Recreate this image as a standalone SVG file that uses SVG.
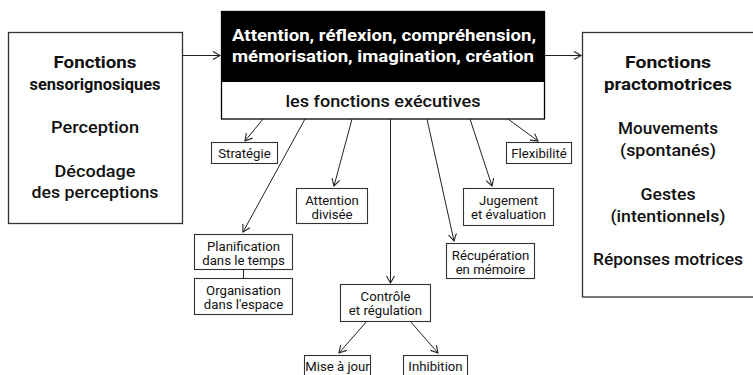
<svg xmlns="http://www.w3.org/2000/svg" width="753" height="375" viewBox="0 0 753 375">
<style>
  .big { fill: #fff; stroke: #333; stroke-width: 1.3; }
  .box { fill: #fff; stroke: #333; stroke-width: 1.1; }
  .t { font-family: Roboto, "Liberation Sans", sans-serif; text-anchor: middle; fill: #111; }
  .title { font-size: 17px; font-weight: 700; }
  .sub { font-size: 17px; font-weight: 500; }
  .head { font-size: 17px; font-weight: 700; fill: #fff; }
  .exec { font-size: 16.5px; font-weight: 500; }
  .lbl { font-size: 13.2px; font-weight: 400; }
  .con { fill: none; stroke: #222; stroke-width: 1; }
</style>
<defs>
  <marker id="arr" markerUnits="userSpaceOnUse" viewBox="-9 -6 11 12" refX="0" refY="0" markerWidth="11" markerHeight="12" orient="auto">
    <path d="M-7,-4 L0,0 L-7,4" fill="none" stroke="#222" stroke-width="1.1"/>
  </marker>
</defs>
<rect width="753" height="375" fill="#fff"/>

<g id="sensorignosiques">
  <rect class="big" x="8.5" y="32.5" width="174" height="191"/>
  <text class="t title" x="95" y="68" textLength="83" lengthAdjust="spacingAndGlyphs">Fonctions</text>
  <text class="t title" x="95" y="90" textLength="131" lengthAdjust="spacingAndGlyphs">sensorignosiques</text>
  <text class="t sub" x="95" y="133" textLength="88" lengthAdjust="spacingAndGlyphs">Perception</text>
  <text class="t sub" x="95" y="177" textLength="81" lengthAdjust="spacingAndGlyphs">Décodage</text>
  <text class="t sub" x="95" y="198" textLength="127" lengthAdjust="spacingAndGlyphs">des perceptions</text>
</g>

<g id="central">
  <rect x="221" y="11" width="324" height="71" fill="#000"/>
  <rect x="221.5" y="11.5" width="323" height="107.5" fill="none" stroke="#000" stroke-width="1.3"/>
  <text class="t head" x="384" y="41" textLength="304" lengthAdjust="spacingAndGlyphs">Attention, réflexion, compréhension,</text>
  <text class="t head" x="383" y="62" textLength="302" lengthAdjust="spacingAndGlyphs">mémorisation, imagination, création</text>
  <text class="t exec" x="383" y="107" textLength="195" lengthAdjust="spacingAndGlyphs">les fonctions exécutives</text>
</g>

<g id="practomotrices">
  <rect class="big" x="582.5" y="32.5" width="180" height="264.5"/>
  <text class="t title" x="668" y="68" textLength="86" lengthAdjust="spacingAndGlyphs">Fonctions</text>
  <text class="t title" x="668" y="90" textLength="128" lengthAdjust="spacingAndGlyphs">practomotrices</text>
  <text class="t sub" x="668" y="134" textLength="100" lengthAdjust="spacingAndGlyphs">Mouvements</text>
  <text class="t sub" x="668" y="156" textLength="96" lengthAdjust="spacingAndGlyphs">(spontanés)</text>
  <text class="t sub" x="668" y="200" textLength="55" lengthAdjust="spacingAndGlyphs">Gestes</text>
  <text class="t sub" x="668" y="222" textLength="115" lengthAdjust="spacingAndGlyphs">(intentionnels)</text>
  <text class="t sub" x="668" y="265" textLength="150" lengthAdjust="spacingAndGlyphs">Réponses motrices</text>
</g>

<g id="strategie">
  <rect class="box" x="211.5" y="142.5" width="66" height="21"/>
  <text class="t lbl" x="244.5" y="158">Stratégie</text>
</g>
<g id="flexibilite">
  <rect class="box" x="506.5" y="142.5" width="65" height="21"/>
  <text class="t lbl" x="539" y="158">Flexibilité</text>
</g>
<g id="attention-divisee">
  <rect class="box" x="296.5" y="188.5" width="71" height="35"/>
  <text class="t lbl" x="332" y="205">Attention</text>
  <text class="t lbl" x="332" y="219">divisée</text>
</g>
<g id="jugement">
  <rect class="box" x="463.5" y="188.5" width="90" height="37"/>
  <text class="t lbl" x="508.5" y="205">Jugement</text>
  <text class="t lbl" x="508.5" y="219">et évaluation</text>
</g>
<g id="planification">
  <rect class="box" x="194.5" y="234.5" width="98" height="35"/>
  <text class="t lbl" x="243.5" y="251">Planification</text>
  <text class="t lbl" x="243.5" y="265">dans le temps</text>
</g>
<g id="organisation">
  <rect class="box" x="194.5" y="278.5" width="98" height="36"/>
  <text class="t lbl" x="243.5" y="295">Organisation</text>
  <text class="t lbl" x="243.5" y="309">dans l'espace</text>
</g>
<g id="recuperation">
  <rect class="box" x="446.5" y="243.5" width="88" height="35"/>
  <text class="t lbl" x="490.5" y="260">Récupération</text>
  <text class="t lbl" x="490.5" y="274">en mémoire</text>
</g>
<g id="controle">
  <rect class="box" x="340.5" y="284.5" width="90" height="37"/>
  <text class="t lbl" x="385.5" y="301">Contrôle</text>
  <text class="t lbl" x="385.5" y="315">et régulation</text>
</g>
<g id="mise-a-jour">
  <rect class="box" x="304.5" y="355.5" width="66" height="30"/>
  <text class="t lbl" x="337.5" y="371">Mise à jour</text>
</g>
<g id="inhibition">
  <rect class="box" x="403.5" y="355.5" width="64" height="30"/>
  <text class="t lbl" x="435.5" y="371">Inhibition</text>
</g>

<g id="connectors">
  <path class="con" d="M182,55.5 L220,55.5" marker-end="url(#arr)"/>
  <path class="con" d="M545,55.5 L581,55.5" marker-end="url(#arr)"/>
  <path class="con" d="M263,119 L245,141" marker-end="url(#arr)"/>
  <path class="con" d="M305,119 L243,232" marker-end="url(#arr)"/>
  <path class="con" d="M352,119 L334,186" marker-end="url(#arr)"/>
  <path class="con" d="M390.5,119 L390.5,283" marker-end="url(#arr)"/>
  <path class="con" d="M427,119 L454,241" marker-end="url(#arr)"/>
  <path class="con" d="M470,119 L492,186" marker-end="url(#arr)"/>
  <path class="con" d="M508,119 L538,141" marker-end="url(#arr)"/>
  <path class="con" d="M367,321 L339,353" marker-end="url(#arr)"/>
  <path class="con" d="M410,321 L438,353" marker-end="url(#arr)"/>
  <path class="con" d="M243.5,269 L243.5,278"/>
</g>
</svg>
